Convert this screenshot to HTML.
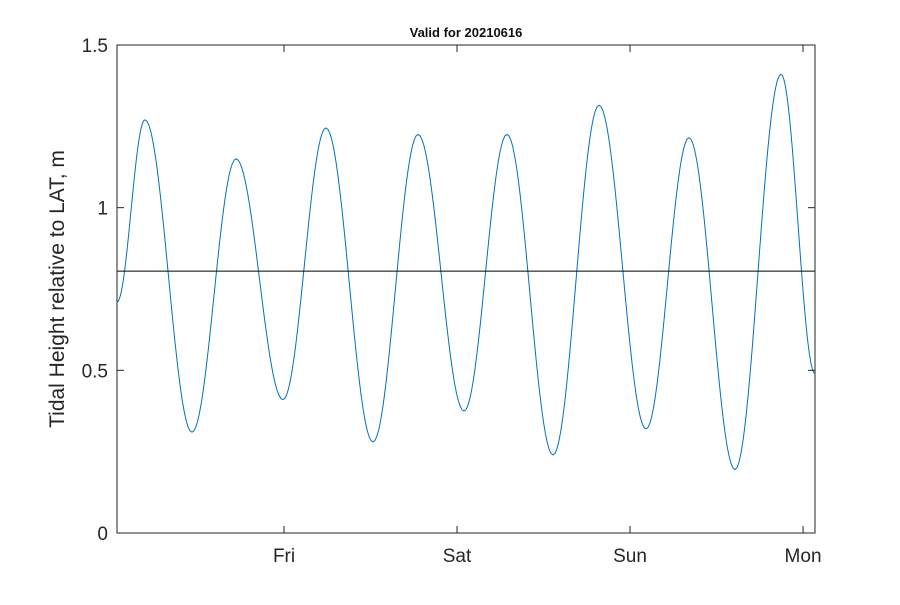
<!DOCTYPE html>
<html><head><meta charset="utf-8"><style>
body{margin:0;background:#fff;width:900px;height:600px;overflow:hidden}
text{font-family:"Liberation Sans",sans-serif}
</style></head><body>
<svg id="chart" width="900" height="600" xmlns="http://www.w3.org/2000/svg">
<rect x="0" y="0" width="900" height="600" fill="#fff"/>
<text x="466" y="37" text-anchor="middle" font-size="13" font-weight="bold" fill="#111">Valid for 20210616</text>
<text transform="translate(64,289) rotate(-90)" text-anchor="middle" font-size="21" fill="#262626">Tidal Height relative to LAT, m</text>
<g id="marks"></g>
<g id="axes"></g>
</svg>
<script>
// extrema times (hours from plot start) and heights (m)
const times = [0, 3.88, 10.40, 16.51, 23.03, 28.99, 35.51, 41.76, 48.14, 54.10, 60.49, 66.87, 73.39, 79.35, 85.73, 92.12, 96.83];
const heights = [0.71, 1.27, 0.31, 1.15, 0.41, 1.245, 0.28, 1.225, 0.375, 1.225, 0.24, 1.315, 0.32, 1.215, 0.195, 1.41, 0.49];
const refLevel = [0.805];
const yTicks = [0, 0.5, 1, 1.5];
const yTickLabels = ["0", "0.5", "1", "1.5"];
const xTicks = [23.17, 47.17, 71.17, 95.17];
const xTickLabels = ["Fri", "Sat", "Sun", "Mon"];

const L=117,R=815,T=45,B=533, xMax=96.83, yMin=0, yMax=1.5;
const sx=t=>L+(t/xMax)*(R-L);
const sy=v=>B-(v-yMin)/(yMax-yMin)*(B-T);
const NS="http://www.w3.org/2000/svg";
const marks=document.getElementById('marks'), axes=document.getElementById('axes');

// smooth curve between extrema (cosine shape)
let d="";
for(let i=0;i<times.length-1;i++){
  const t0=times[i],t1=times[i+1],h0=heights[i],h1=heights[i+1];
  const n=24;
  for(let k=(i===0?0:1);k<=n;k++){
    const f=k/n, t=t0+(t1-t0)*f, h=h0+(h1-h0)*(1-Math.cos(Math.PI*f))/2;
    d+=(d?"L":"M")+sx(t).toFixed(2)+" "+sy(h).toFixed(2);
  }
}
const path=document.createElementNS(NS,'path');
path.setAttribute('d',d);path.setAttribute('fill','none');path.setAttribute('stroke','#0072BD');path.setAttribute('stroke-width','1');


marks.appendChild(path);

const ref=document.createElementNS(NS,'line');
ref.setAttribute('x1',L);ref.setAttribute('x2',R);ref.setAttribute('y1',sy(refLevel[0]));ref.setAttribute('y2',sy(refLevel[0]));
ref.setAttribute('stroke','#000');ref.setAttribute('stroke-width','1');


marks.appendChild(ref);

const box=document.createElementNS(NS,'rect');
box.setAttribute('x',L);box.setAttribute('y',T);box.setAttribute('width',R-L);box.setAttribute('height',B-T);
box.setAttribute('fill','none');box.setAttribute('stroke','#262626');box.setAttribute('stroke-width','1');


axes.appendChild(box);

yTicks.forEach((v,i)=>{
  const y=sy(v);
  [[L,L+7],[R,R-7]].forEach(([a,b])=>{
    const tk=document.createElementNS(NS,'line');
    tk.setAttribute('x1',a);tk.setAttribute('x2',b);tk.setAttribute('y1',y);tk.setAttribute('y2',y);tk.setAttribute('stroke','#262626');
    
    
    axes.appendChild(tk);
  });
  const tx=document.createElementNS(NS,'text');
  tx.setAttribute('x',L-9);tx.setAttribute('y',y+7);tx.setAttribute('text-anchor','end');tx.setAttribute('font-size','19');tx.setAttribute('fill','#262626');
  tx.textContent=yTickLabels[i];
  
  
  axes.appendChild(tx);
});
xTicks.forEach((t,i)=>{
  const x=sx(t);
  [[B,B-7],[T,T+7]].forEach(([a,b])=>{
    const tk=document.createElementNS(NS,'line');
    tk.setAttribute('x1',x);tk.setAttribute('x2',x);tk.setAttribute('y1',a);tk.setAttribute('y2',b);tk.setAttribute('stroke','#262626');
    
    
    axes.appendChild(tk);
  });
  const tx=document.createElementNS(NS,'text');
  tx.setAttribute('x',x);tx.setAttribute('y',B+29);tx.setAttribute('text-anchor','middle');tx.setAttribute('font-size','19');tx.setAttribute('fill','#262626');
  tx.textContent=xTickLabels[i];
  
  
  axes.appendChild(tx);
});
</script>
</body></html>
